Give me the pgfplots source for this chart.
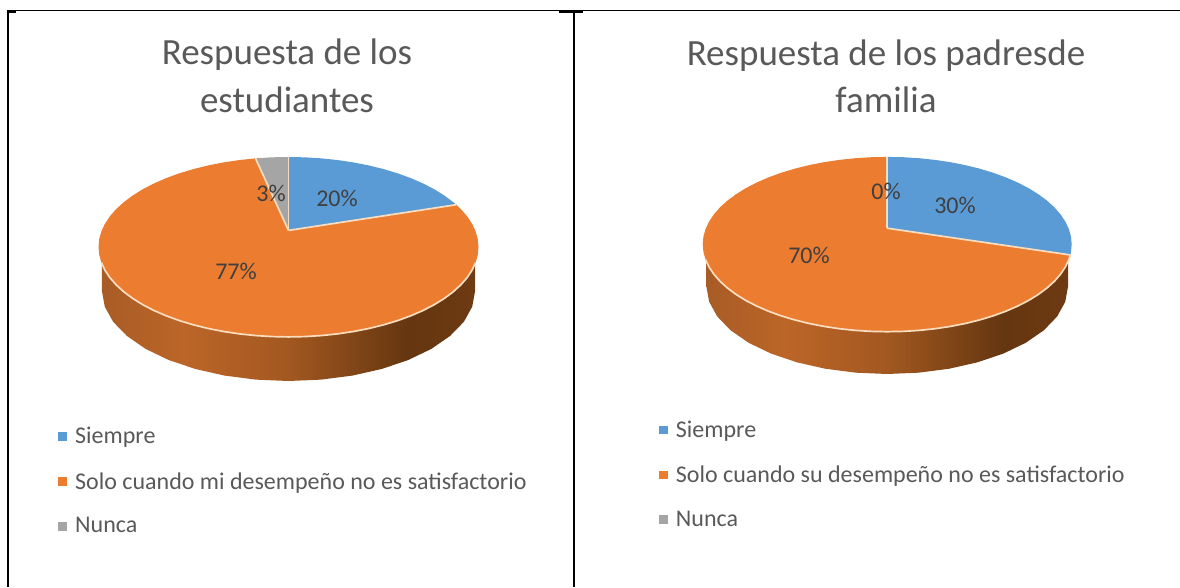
\documentclass[border=0pt]{standalone}
\usepackage{pgfplots}
\usepackage{fontspec}
\setmainfont{Carlito}
\pgfplotsset{compat=1.18}
\definecolor{cblue}{HTML}{5B9BD5}
\definecolor{corange}{HTML}{EC7C30}
\definecolor{cgrey}{HTML}{A5A5A5}
\definecolor{crim}{HTML}{F8DDBF}
\definecolor{ctitle}{HTML}{595959}
\definecolor{clabel}{HTML}{404040}
\definecolor{wa}{HTML}{A85C26}
\definecolor{wb}{HTML}{BC6528}
\definecolor{wc}{HTML}{A25820}
\definecolor{wd}{HTML}{653610}
\definecolor{we}{HTML}{6E3A12}
\pgfdeclarehorizontalshading{wall}{100bp}{color(0bp)=(wa); color(25bp)=(wa); color(36bp)=(wb); color(50bp)=(wc); color(66bp)=(wd); color(75bp)=(we); color(100bp)=(we)}
\pgfplotsset{pie/.style={hide axis, scale only axis, clip=false, xmin=-1, xmax=1, ymax=1,
  legend cell align=left,
  legend style={draw=none, fill=none, inner sep=0pt, font=\fontsize{24}{24}\selectfont\color{ctitle}, row sep=23pt, anchor=west, /tikz/every odd column/.append style={column sep=7pt}}},
 sep/.style={crim, line width=1.7pt, data cs=polar, forget plot},
 slice/.style={draw=none, data cs=polar, forget plot}}
\begin{document}
\begin{tikzpicture}[x=1pt,y=1pt]
\path[use as bounding box] (0,0) rectangle (1180pt,587pt);
% left pie
\begin{axis}[pie, at={(98.5pt,206pt)}, anchor=south west, width=380pt, height=224pt, ymin=-1.49,
  legend style={at={(-0.1055,-0.446)}}]
\addplot[shading=wall, draw=none, forget plot] coordinates {(-0.982,-0.2)(-0.982,-0.49)(-0.967,-0.664)(-0.923,-0.832)(-0.850,-0.990)(-0.752,-1.133)(-0.631,-1.256)(-0.491,-1.356)(-0.336,-1.430)(-0.171,-1.475)(0,-1.49)(0.171,-1.475)(0.336,-1.430)(0.491,-1.356)(0.631,-1.256)(0.752,-1.133)(0.850,-0.990)(0.923,-0.832)(0.967,-0.664)(0.982,-0.49)(0.982,-0.2)};
\addplot[fill=corange, slice] coordinates {(90,0.184)(100,1)(105,1)(110,1)(115,1)(120,1)(125,1)(130,1)(135,1)(140,1)(145,1)(150,1)(155,1)(160,1)(165,1)(170,1)(175,1)(180,1)(185,1)(190,1)(195,1)(200,1)(205,1)(210,1)(215,1)(220,1)(225,1)(230,1)(235,1)(240,1)(245,1)(250,1)(255,1)(260,1)(265,1)(270,1)(275,1)(280,1)(285,1)(290,1)(295,1)(300,1)(305,1)(310,1)(315,1)(320,1)(325,1)(330,1)(335,1)(340,1)(345,1)(350,1)(355,1)(360,1)(365,1)(370,1)(375,1)(380,1)(385,1)(388,1)};
\addplot[fill=cblue, slice] coordinates {(90,0.184)(28,1)(30,1)(35,1)(40,1)(45,1)(50,1)(55,1)(60,1)(65,1)(70,1)(75,1)(80,1)(85,1)(90,1)};
\addplot[fill=cgrey, slice] coordinates {(90,0.184)(90,1)(93,1)(96,1)(100,1)};
\addplot[sep] coordinates {(28,1)(90,0.184)};
\addplot[sep] coordinates {(90,1)(90,0.184)};
\addplot[sep] coordinates {(100,1)(90,0.184)};
\addplot[sep] coordinates {(190,1)(195,1)(200,1)(205,1)(210,1)(215,1)(220,1)(225,1)(230,1)(235,1)(240,1)(245,1)(250,1)(255,1)(260,1)(265,1)(270,1)(275,1)(280,1)(285,1)(290,1)(295,1)(300,1)(305,1)(310,1)(315,1)(320,1)(325,1)(330,1)(335,1)(340,1)(345,1)(350,1)};
\addlegendimage{only marks, mark=square*, mark size=3.8pt, cblue, mark options={draw=none,fill=cblue}}
\addlegendentry{Siempre}
\addlegendimage{only marks, mark=square*, mark size=3.8pt, corange, mark options={draw=none,fill=corange}}
\addlegendentry{Solo cuando mi desempeño no es satisfactorio}
\addlegendimage{only marks, mark=square*, mark size=3.8pt, cgrey, mark options={draw=none,fill=cgrey}}
\addlegendentry{Nunca}
\end{axis}
% right pie
\begin{axis}[pie, at={(702.7pt,213pt)}, anchor=south west, width=369pt, height=217.1pt, ymin=-1.484,
  legend style={at={(-0.118,-0.461)}}]
\addplot[shading=wall, draw=none, forget plot] coordinates {(-0.98,-0.2)(-0.98,-0.484)(-0.965,-0.658)(-0.921,-0.826)(-0.849,-0.984)(-0.751,-1.127)(-0.630,-1.250)(-0.490,-1.350)(-0.335,-1.424)(-0.170,-1.469)(0,-1.484)(0.170,-1.469)(0.335,-1.424)(0.490,-1.350)(0.630,-1.250)(0.751,-1.127)(0.849,-0.984)(0.921,-0.826)(0.965,-0.658)(0.98,-0.484)(0.98,-0.2)};
\addplot[fill=corange, slice] coordinates {(90,0.184)(90,1)(95,1)(100,1)(105,1)(110,1)(115,1)(120,1)(125,1)(130,1)(135,1)(140,1)(145,1)(150,1)(155,1)(160,1)(165,1)(170,1)(175,1)(180,1)(185,1)(190,1)(195,1)(200,1)(205,1)(210,1)(215,1)(220,1)(225,1)(230,1)(235,1)(240,1)(245,1)(250,1)(255,1)(260,1)(265,1)(270,1)(275,1)(280,1)(285,1)(290,1)(295,1)(300,1)(305,1)(310,1)(315,1)(320,1)(325,1)(330,1)(335,1)(340,1)(345,1)(350,1)(353,1)};
\addplot[fill=cblue, slice] coordinates {(90,0.184)(-7,1)(-5,1)(0,1)(5,1)(10,1)(15,1)(20,1)(25,1)(30,1)(35,1)(40,1)(45,1)(50,1)(55,1)(60,1)(65,1)(70,1)(75,1)(80,1)(85,1)(90,1)};
\addplot[sep] coordinates {(-7,1)(90,0.184)};
\addplot[sep] coordinates {(90,1)(90,0.184)};
\addplot[sep] coordinates {(190,1)(195,1)(200,1)(205,1)(210,1)(215,1)(220,1)(225,1)(230,1)(235,1)(240,1)(245,1)(250,1)(255,1)(260,1)(265,1)(270,1)(275,1)(280,1)(285,1)(290,1)(295,1)(300,1)(305,1)(310,1)(315,1)(320,1)(325,1)(330,1)(335,1)(340,1)(345,1)(350,1)(353,1)};
\addlegendimage{only marks, mark=square*, mark size=3.8pt, cblue, mark options={draw=none,fill=cblue}}
\addlegendentry{Siempre}
\addlegendimage{only marks, mark=square*, mark size=3.8pt, corange, mark options={draw=none,fill=corange}}
\addlegendentry{Solo cuando su desempeño no es satisfactorio}
\addlegendimage{only marks, mark=square*, mark size=3.8pt, cgrey, mark options={draw=none,fill=cgrey}}
\addlegendentry{Nunca}
\end{axis}
% frame and text, in pixel coordinates
\begin{axis}[at={(0pt,0pt)}, anchor=south west, hide axis, scale only axis, clip=false, width=1180pt, height=587pt,
  xmin=0, xmax=1180, ymin=0, ymax=587, y dir=reverse]
\addplot[black, line width=2pt, forget plot] coordinates {(7.5,587)(7.5,10)};
\addplot[black, line width=1.2pt, forget plot] coordinates {(6.5,10.5)(1180,10.5)};
\addplot[black, line width=2pt, forget plot] coordinates {(8,12)(16,12)};
\addplot[black, line width=2pt, forget plot] coordinates {(559,12)(583,12)};
\addplot[black, line width=2.2pt, forget plot] coordinates {(574,11)(574,587)};
\node[font=\fontsize{37}{37}\selectfont, text=ctitle] at (axis cs:287,55) {Respuesta de los};
\node[font=\fontsize{37}{37}\selectfont, text=ctitle] at (axis cs:287,100) {estudiantes};
\node[font=\fontsize{37}{37}\selectfont, text=ctitle] at (axis cs:886,56) {Respuesta de los padresde};
\node[font=\fontsize{37}{37}\selectfont, text=ctitle] at (axis cs:886,100) {familia};
\node[font=\fontsize{24}{24}\selectfont, text=clabel] at (axis cs:337,198) {20\%};
\node[font=\fontsize{24}{24}\selectfont, text=clabel] at (axis cs:236,271) {77\%};
\node[font=\fontsize{24}{24}\selectfont, text=clabel] at (axis cs:271,193) {3\%};
\node[font=\fontsize{24}{24}\selectfont, text=clabel] at (axis cs:955,205) {30\%};
\node[font=\fontsize{24}{24}\selectfont, text=clabel] at (axis cs:809,255) {70\%};
\node[font=\fontsize{24}{24}\selectfont, text=clabel] at (axis cs:886,191) {0\%};
\end{axis}
\end{tikzpicture}
\end{document}
